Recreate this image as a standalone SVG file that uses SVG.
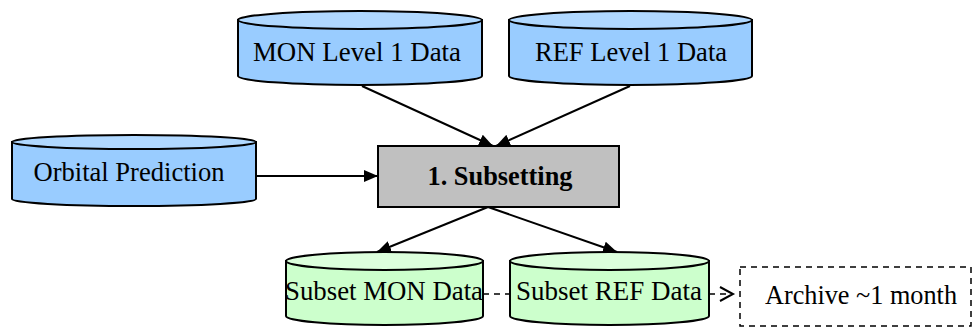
<svg xmlns="http://www.w3.org/2000/svg" width="972" height="327" viewBox="0 0 972 327">
<defs>
<style>
.t{font-family:"Liberation Serif","Times New Roman",serif;font-size:28px;fill:#000;text-anchor:middle}
.b{font-weight:bold}
.cylB{fill:#99ccff;stroke:#000;stroke-width:2}
.topB{fill:#b0d8ff;stroke:#000;stroke-width:2}
.cylG{fill:#ccffcc;stroke:#000;stroke-width:2}
.topG{fill:#dcffdc;stroke:#000;stroke-width:2}
.ln{stroke:#000;stroke-width:2;fill:none}
.dash{stroke:#000;stroke-width:1.5;fill:none;stroke-dasharray:6 5}
</style>
<marker id="ah" viewBox="0 0 14 12" refX="14" refY="6" markerWidth="14" markerHeight="12" markerUnits="userSpaceOnUse" orient="auto">
<path d="M0,0 L14,6 L0,12 Z" fill="#000"/>
</marker>
</defs>
<g id="mon-level1">
<path class="cylB" d="M238,20 L238,76 A122,9 0 0 0 482,76 L482,20 Z"/>
<ellipse class="topB" cx="360" cy="20" rx="122" ry="9"/>
<text class="t" x="357" y="61" textLength="208" lengthAdjust="spacingAndGlyphs">MON Level 1 Data</text>
</g>
<g id="ref-level1">
<path class="cylB" d="M509,20 L509,76 A121.5,9 0 0 0 752,76 L752,20 Z"/>
<ellipse class="topB" cx="630.5" cy="20" rx="121.5" ry="9"/>
<text class="t" x="631" y="61" textLength="192" lengthAdjust="spacingAndGlyphs">REF Level 1 Data</text>
</g>
<g id="orbital">
<path class="cylB" d="M12,142 L12,199 A122,7 0 0 0 256,199 L256,142 Z"/>
<ellipse class="topB" cx="134" cy="142" rx="122" ry="7"/>
<text class="t" x="129" y="181" textLength="191" lengthAdjust="spacingAndGlyphs">Orbital Prediction</text>
</g>
<g id="subsetting">
<rect x="378" y="146" width="241" height="61" fill="#c0c0c0" stroke="#000" stroke-width="2"/>
<text class="t b" x="500" y="185" textLength="145" lengthAdjust="spacingAndGlyphs">1. Subsetting</text>
</g>
<g id="subset-mon">
<path class="cylG" d="M286,261 L286,316 A98.5,9 0 0 0 483,316 L483,261 Z"/>
<ellipse class="topG" cx="384.5" cy="261" rx="98.5" ry="9"/>
<text class="t" x="384" y="300" textLength="198" lengthAdjust="spacingAndGlyphs">Subset MON Data</text>
</g>
<g id="subset-ref">
<path class="cylG" d="M510,261 L510,316 A99.5,9 0 0 0 709,316 L709,261 Z"/>
<ellipse class="topG" cx="609.5" cy="261" rx="99.5" ry="9"/>
<text class="t" x="609" y="300" textLength="186" lengthAdjust="spacingAndGlyphs">Subset REF Data</text>
</g>
<g id="archive">
<rect x="740" y="267" width="231" height="59" class="dash" fill="#fff"/>
<text class="t" x="861" y="304" textLength="192" lengthAdjust="spacingAndGlyphs">Archive ~1 month</text>
</g>
<g id="connectors">
<line class="ln" x1="362" y1="86" x2="493" y2="146" marker-end="url(#ah)"/>
<line class="ln" x1="630" y1="86" x2="496" y2="146" marker-end="url(#ah)"/>
<line class="ln" x1="256" y1="176" x2="378" y2="176" marker-end="url(#ah)"/>
<line class="ln" x1="488" y1="207" x2="377" y2="252" marker-end="url(#ah)"/>
<line class="ln" x1="488" y1="207" x2="617" y2="252" marker-end="url(#ah)"/>
<line class="dash" x1="483" y1="294" x2="510" y2="294"/>
<line class="dash" x1="709" y1="294" x2="733" y2="294"/>
<path class="ln" stroke-width="1.5" d="M720,287 L733,294 L720,301"/>
</g>
</svg>
